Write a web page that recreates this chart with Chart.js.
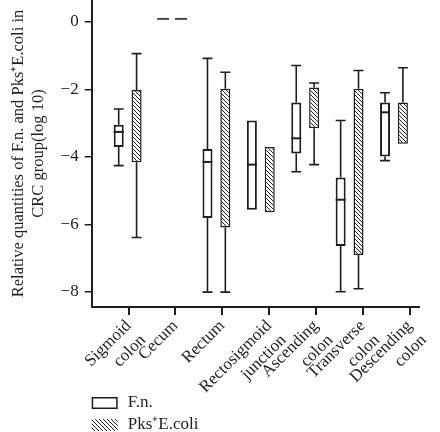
<!DOCTYPE html>
<html>
<head>
<meta charset="utf-8">
<script src="https://cdn.jsdelivr.net/npm/chart.js@4.4.1/dist/chart.umd.min.js"></script>
<style>
  body { margin: 0; background: #fff; }
  canvas { display: block; }
</style>
</head>
<body>
<canvas id="boxChart" width="440" height="432" style="width:440px;height:432px"></canvas>
<script>
// site labels (x axis)
var categories = [["Sigmoid", "colon"], "Cecum", "Rectum", ["Rectosigmoid", "junction"],
                  ["Ascending", "colon"], ["Transverse", "colon"], ["Descending", "colon"]];
var yTicks = [-8, -6, -4, -2, 0];

// F.n. box plot values (log10)
var fnMin = [-4.26, 0.09, -8.01, null, -4.44, -8.0, -4.11];
var fnQ1  = [-3.71, 0.09, -5.81, -5.57, -3.90, -6.64, -3.99];
var fnMed = [-3.26, 0.09, -4.15, -4.23, -3.45, -5.27, -2.68];
var fnQ3  = [-3.05, 0.09, -3.77, -2.92, -2.39, -4.61, -2.39];
var fnMax = [-2.58, 0.09, -1.08, null, -1.29, -2.92, -2.10];

// Pks+E.coli box plot values (log10)
var pksMin = [-6.39, 0.09, -8.01, null, -4.23, -7.91, null];
var pksQ1  = [-4.16, 0.09, -6.09, -5.64, -3.15, -6.91, -3.61];
var pksMed = [null, 0.09, null, null, null, null, null];
var pksQ3  = [-2.02, 0.09, -1.98, -3.71, -1.94, -1.98, -2.39];
var pksMax = [-0.94, 0.09, -1.49, null, -1.81, -1.44, -1.36];

var ink = '#1e1e1e';
var serif = 'Liberation Serif';

function hatch() {
  var c = document.createElement('canvas');
  c.width = 4; c.height = 4;
  var g = c.getContext('2d');
  g.fillStyle = '#fff';
  g.fillRect(0, 0, 4, 4);
  g.strokeStyle = '#222';
  g.lineWidth = 1;
  g.beginPath();
  g.moveTo(-1, -1); g.lineTo(5, 5);
  g.moveTo(-1, 3); g.lineTo(1, 5);
  g.moveTo(3, -1); g.lineTo(5, 1);
  g.stroke();
  return g.createPattern(c, 'repeat');
}
var hatchFill = hatch();

function boxes(q1, q3) {
  return q1.map(function (v, i) { return { x: i, y: [v, q3[i]] }; });
}

var stats = [
  { min: fnMin, med: fnMed, max: fnMax, q1: fnQ1, q3: fnQ3 },
  { min: pksMin, med: pksMed, max: pksMax, q1: pksQ1, q3: pksQ3 }
];

// whiskers, medians and the stacked legend
var boxPlot = {
  id: 'boxPlot',
  beforeDatasetsDraw: function (chart) {
    var ctx = chart.ctx, y = chart.scales.y;
    ctx.save();
    ctx.strokeStyle = ink;
    ctx.lineWidth = 1.6;
    stats.forEach(function (s, d) {
      chart.getDatasetMeta(d).data.forEach(function (el, i) {
        var half = el.width / 2;
        [[s.max[i], s.q3[i]], [s.min[i], s.q1[i]]].forEach(function (p) {
          if (p[0] === null || p[0] === p[1]) return;
          var yv = y.getPixelForValue(p[0]), yb = y.getPixelForValue(p[1]);
          ctx.beginPath();
          ctx.moveTo(el.x, yb); ctx.lineTo(el.x, yv);
          ctx.moveTo(el.x - half, yv); ctx.lineTo(el.x + half, yv);
          ctx.stroke();
        });
      });
    });
    ctx.restore();
  },
  afterDatasetsDraw: function (chart) {
    var ctx = chart.ctx, y = chart.scales.y;
    ctx.save();
    stats.forEach(function (s, d) {
      chart.getDatasetMeta(d).data.forEach(function (el, i) {
        if (s.med[i] === null) return;
        var half = el.width / 2, ym = y.getPixelForValue(s.med[i]);
        var flat = s.q1[i] === s.q3[i];
        ctx.strokeStyle = flat ? '#4a4a4a' : ink;
        ctx.lineWidth = 2;
        ctx.beginPath();
        ctx.moveTo(el.x - half - (flat ? 1 : 0), ym);
        ctx.lineTo(el.x + half + (flat ? 1 : 0), ym);
        ctx.stroke();
      });
    });
    ctx.restore();
  },
  afterDraw: function (chart) {
    var ctx = chart.ctx, left = chart.chartArea.left, h = chart.height;
    var items = [
      { text: chart.data.datasets[0].label, fill: '#fff', border: ink, y: h - 29 },
      { text: chart.data.datasets[1].label, fill: hatchFill, border: null, y: h - 7 }
    ];
    ctx.save();
    ctx.font = '17px "' + serif + '"';
    ctx.textBaseline = 'middle';
    items.forEach(function (it) {
      ctx.fillStyle = it.fill;
      ctx.fillRect(left, it.y - 6, 26, 12);
      if (it.border) {
        ctx.strokeStyle = it.border;
        ctx.lineWidth = 1.5;
        ctx.strokeRect(left + 0.75, it.y - 5.25, 24.5, 10.5);
      }
      ctx.fillStyle = ink;
      ctx.fillText(it.text, left + 36, it.y);
    });
    ctx.restore();
  }
};

var chart = new Chart(document.getElementById('boxChart').getContext('2d'), {
  type: 'bar',
  data: {
    datasets: [{
      label: 'F.n.',
      data: boxes(fnQ1, fnQ3),
      backgroundColor: '#fff',
      borderColor: ink,
      borderWidth: 2,
      borderSkipped: false,
      xAxisID: 'xb'
    }, {
      label: 'Pks\u207AE.coli',
      data: boxes(pksQ1, pksQ3),
      backgroundColor: hatchFill,
      borderColor: ink,
      borderWidth: 1.5,
      borderSkipped: false,
      xAxisID: 'xb'
    }]
  },
  options: {
    responsive: false,
    devicePixelRatio: 1,
    animation: false,
    categoryPercentage: 0.805,
    barPercentage: 0.56,
    layout: { padding: { left: 9, right: 0, top: 0, bottom: 37 } },
    plugins: {
      legend: { display: false },
      tooltip: { enabled: false }
    },
    scales: {
      xb: {
        type: 'linear',
        display: false,
        offset: false,
        grid: { offset: false },
        min: -0.81,
        max: 6.565
      },
      x: {
        type: 'linear',
        position: 'bottom',
        offset: false,
        min: -0.788,
        max: 6.203,
        afterBuildTicks: function (scale) {
          scale.ticks = categories.map(function (c, i) { return { value: i }; });
        },
        afterFit: function (scale) {
          scale.height = 88;
        },
        ticks: {
          autoSkip: false,
          minRotation: 45,
          maxRotation: 45,
          padding: 1,
          color: ink,
          font: { family: serif, size: 17 },
          callback: function (v) { return categories[v]; }
        },
        grid: { offset: false, drawOnChartArea: false, tickLength: 8, color: ink, lineWidth: 2 },
        border: { display: true, color: ink, width: 2 }
      },
      y: {
        min: -8.45,
        max: 0.65,
        afterBuildTicks: function (scale) {
          scale.ticks = yTicks.map(function (v) { return { value: v }; });
        },
        afterFit: function (scale) {
          scale.paddingTop = 0;
          scale.paddingBottom = 0;
        },
        ticks: {
          color: ink,
          padding: 6,
          font: { family: serif, size: 17 },
          callback: function (v) { return String(v).replace('-', '\u2212'); }
        },
        grid: { drawOnChartArea: false, tickLength: 7, color: ink, lineWidth: 1.5 },
        border: { display: true, color: ink, width: 2 },
        title: {
          display: true,
          text: ['Relative quantities of F.n. and Pks\u207AE.coli in', 'CRC group(log 10)'],
          color: ink,
          font: { family: serif, size: 16.5, lineHeight: 1.2 },
          padding: { top: 0, bottom: 6 }
        }
      }
    }
  },
  plugins: [boxPlot]
});
</script>
</body>
</html>
